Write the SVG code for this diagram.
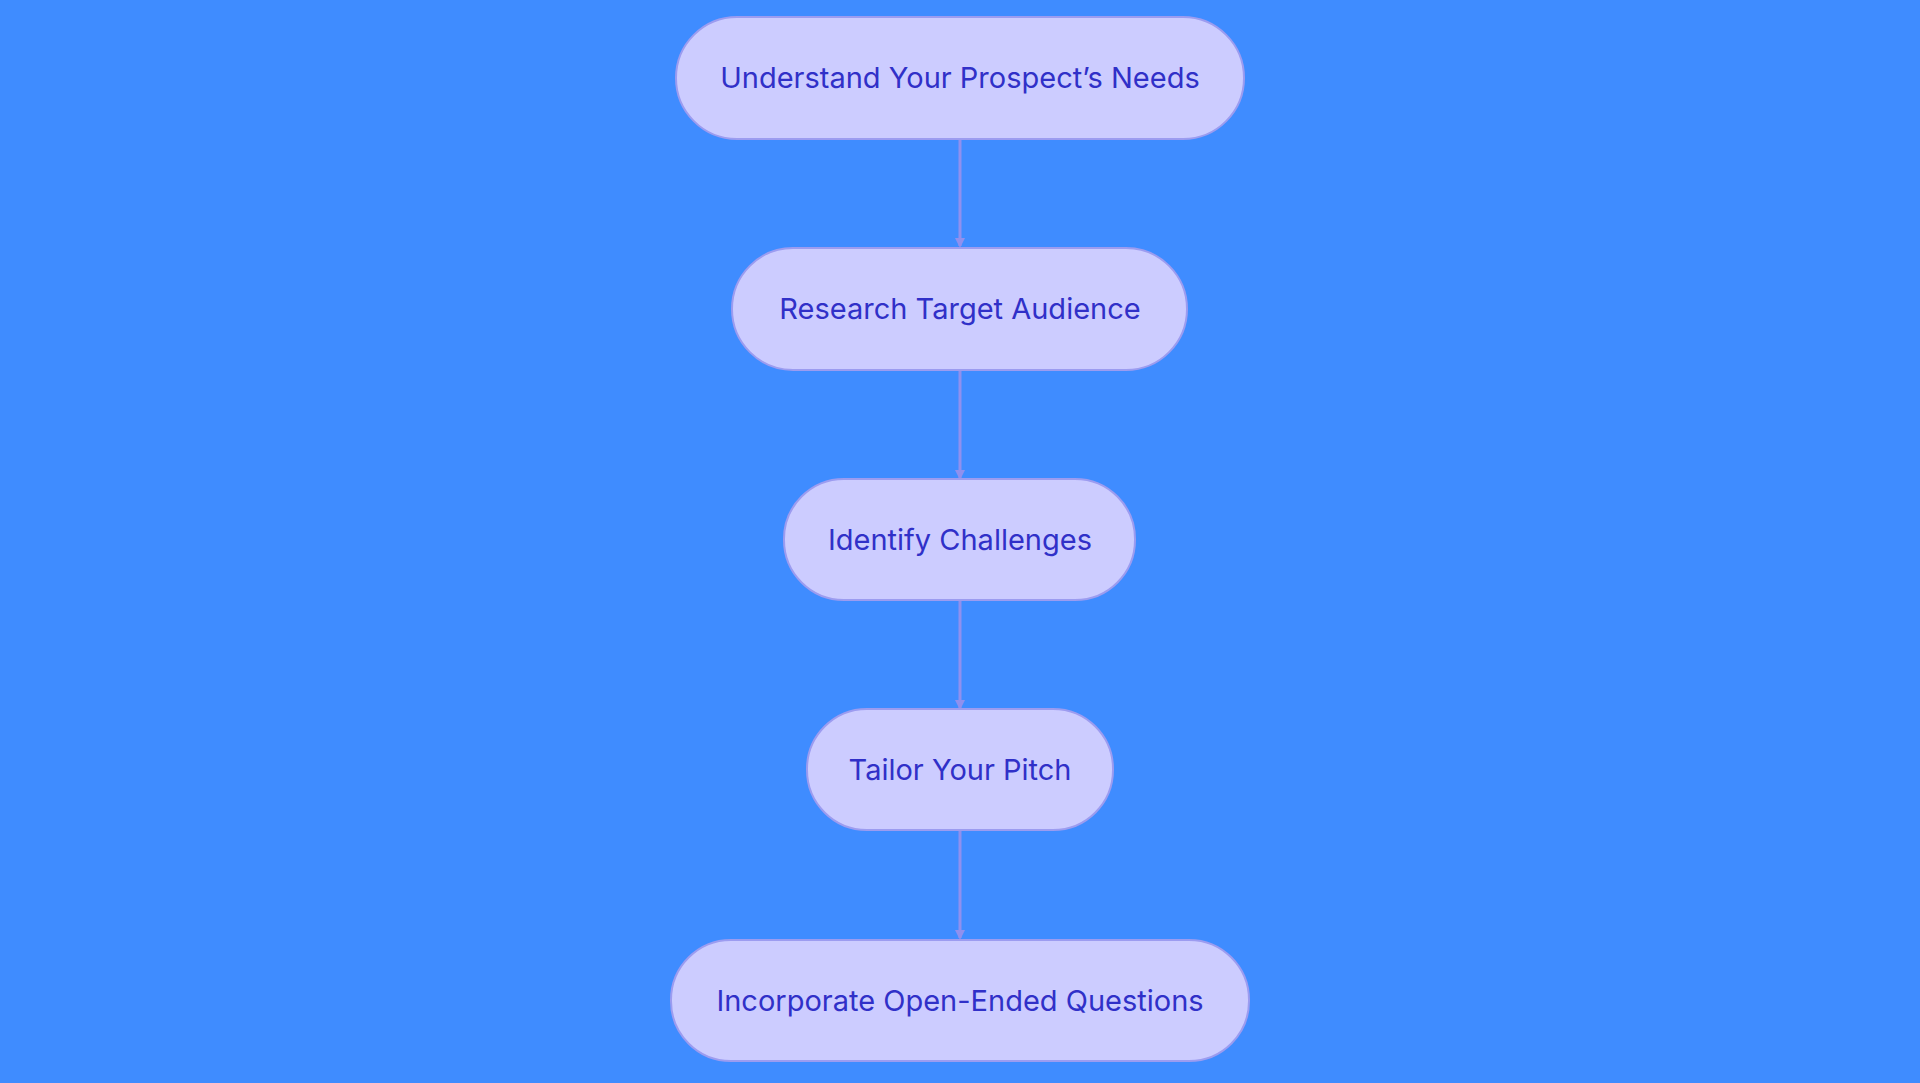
<svg xmlns="http://www.w3.org/2000/svg" width="1920" height="1083" viewBox="0 0 1920 1083">
<style>
.n rect{fill:#ccccff;stroke:#9c9cf0;stroke-width:2}
.n text{font-family:Inter,"Noto Sans",sans-serif;font-size:29px;fill:#3030c8;text-anchor:middle;dominant-baseline:central}
.c line{stroke:#9090ee;stroke-width:3}
</style>
<defs><marker id="a" markerWidth="10" markerHeight="10" refX="8" refY="5" orient="auto" markerUnits="userSpaceOnUse" viewBox="0 0 10 10"><path d="M0,0L10,5L0,10z" fill="#9090ee"/></marker></defs>
<rect width="1920" height="1083" fill="#3f8cff"/>
<g class="c">
<line x1="960" y1="140" x2="960" y2="246" marker-end="url(#a)"/>
<line x1="960" y1="370" x2="960" y2="478" marker-end="url(#a)"/>
<line x1="960" y1="600" x2="960" y2="708" marker-end="url(#a)"/>
<line x1="960" y1="830" x2="960" y2="938" marker-end="url(#a)"/>
</g>
<marker/>
<g class="n" id="n1"><rect x="676" y="17" width="568" height="122" rx="61"/><text x="960" y="77">Understand Your Prospect’s Needs</text></g>
<g class="n" id="n2"><rect x="732" y="248" width="455" height="122" rx="61"/><text x="960" y="308">Research Target Audience</text></g>
<g class="n" id="n3"><rect x="784" y="479" width="351" height="121" rx="60"/><text x="960" y="539">Identify Challenges</text></g>
<g class="n" id="n4"><rect x="807" y="709" width="306" height="121" rx="60"/><text x="960" y="769">Tailor Your Pitch</text></g>
<g class="n" id="n5"><rect x="671" y="940" width="578" height="121" rx="60"/><text x="960" y="1000">Incorporate Open-Ended Questions</text></g>
</svg>
